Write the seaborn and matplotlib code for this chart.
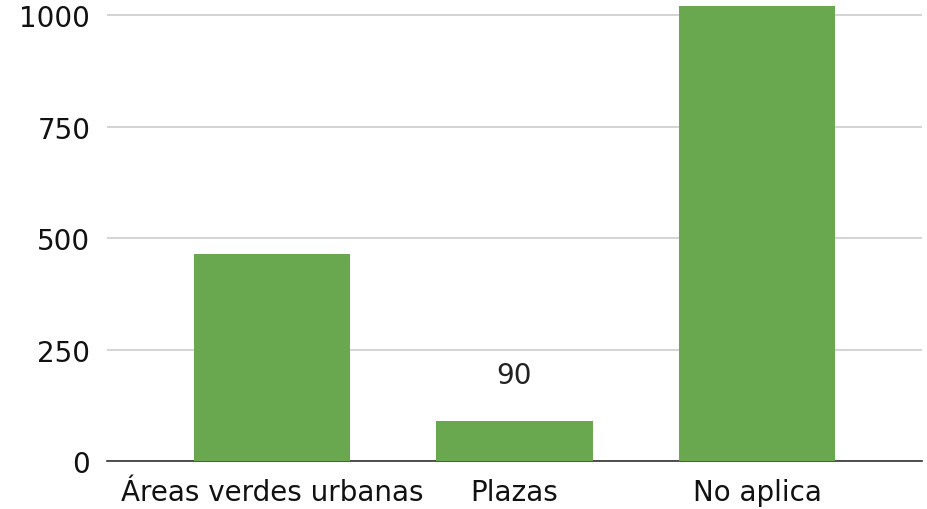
import matplotlib.pyplot as plt
import pandas as pd
import seaborn as sns

categories = ['Áreas verdes urbanas', 'Plazas', 'No aplica']
values = [465, 90, 1021]
labelled = ['Plazas']

df = pd.DataFrame({'categoria': categories, 'valor': values})

sns.set_style('white')
plt.rcParams['font.family'] = ['DejaVu Sans']

fig = plt.figure(figsize=(9.28, 5.1), dpi=100)
ax = fig.add_axes([0.1153, 0.0941, 0.8782, 0.906])

sns.barplot(data=df, x='categoria', y='valor', color='#6aa84f', saturation=1,
            width=0.646, linewidth=0, ax=ax, zorder=3)

for i, (cat, val) in enumerate(zip(categories, values)):
  if cat in labelled:
    ax.annotate(str(val), (i, val), xytext=(0, 33), textcoords='offset points',
                ha='center', va='center', fontsize=20, color='#222222')

ax.set_xlim(-0.68, 2.68)
ax.set_ylim(0, 1036)
ax.set_yticks([0, 250, 500, 750, 1000])
ax.grid(axis='y', color='#cccccc', linewidth=1.2, zorder=0)
ax.set_xlabel('')
ax.set_ylabel('')
for side in ['top', 'right', 'left']:
  ax.spines[side].set_visible(False)
ax.spines['bottom'].set_color('#333333')
ax.spines['bottom'].set_linewidth(1.2)
ax.tick_params(axis='y', length=0, pad=12, labelsize=20, labelcolor='#111111')
ax.tick_params(axis='x', length=0, pad=12, labelsize=20, labelcolor='#111111')

fig.savefig('out.png', dpi=100)
